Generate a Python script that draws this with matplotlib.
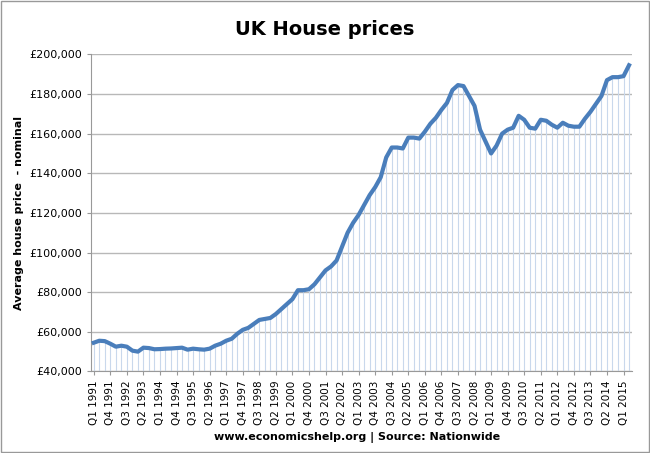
import matplotlib
matplotlib.use("Agg")
import matplotlib.pyplot as plt
from matplotlib.patches import Rectangle

years = list(range(1991, 2016))
prices_k = [54.5, 55.5, 55.3, 54,
            52.5, 53, 52.5, 50.5,
            50, 52, 51.8, 51.2,
            51.3, 51.5, 51.6, 51.8,
            52, 51, 51.5, 51.2,
            51, 51.5, 53, 54,
            55.5, 56.5, 59, 61,
            62, 64, 66, 66.5,
            67, 69, 71.5, 74,
            76.5, 81, 81, 81.5,
            84, 87.5, 91, 93,
            96, 103, 110, 115,
            119, 124, 129, 133,
            138, 148, 153, 153,
            152.5, 158, 158, 157.5,
            161, 165, 168, 172,
            175.5, 182, 184.5, 184,
            179, 174, 162, 156,
            150, 154, 160, 162,
            163, 169, 167, 163,
            162.5, 167, 166.5, 164.5,
            163, 165.5, 164, 163.5,
            163.5, 167.5, 171, 175,
            179, 187, 188.5, 188.5,
            189, 194.5]
prices = [p * 1000 for p in prices_k]
labels = [f"Q{q} {y}" for y in years for q in range(1, 5)][:len(prices)]
yticks = list(range(40000, 200001, 20000))

plt.rcParams["font.family"] = "DejaVu Sans"
fig = plt.figure(figsize=(6.5, 4.53), dpi=100)
ax = fig.add_axes([0.14, 0.18, 0.832, 0.70])
x = list(range(len(prices)))
ax.vlines(x, 40000, prices, color="#c9d8ec", lw=0.8, zorder=1)
ax.plot(x, prices, color="#4a7ebb", lw=3, zorder=3, solid_joinstyle="round")
ax.set_ylim(40000, 200000)
ax.set_xlim(-0.5, len(prices) - 0.5)
ax.set_yticks(yticks)
ax.set_yticklabels([f"£{v:,}" for v in yticks], fontsize=8)
ax.yaxis.grid(True, color="#b8b8b8", lw=1)
ax.set_axisbelow(True)
ax.set_xticks(x[::3])
ax.set_xticklabels(labels[::3], rotation=90, fontsize=7.5)
for s in ["top", "right"]:
    ax.spines[s].set_visible(False)
ax.spines["left"].set_color("#999999")
ax.spines["bottom"].set_color("#999999")
ax.tick_params(axis="y", length=3, color="#999999")
ax.tick_params(axis="x", length=3, color="#999999")
ax.set_ylabel("Average house price  - nominal", fontsize=8, fontweight="bold")
fig.text(0.5, 0.935, "UK House prices", ha="center", va="center", fontsize=14, fontweight="bold")
fig.text(0.55, 0.035, "www.economicshelp.org | Source: Nationwide", ha="center", va="center",
         fontsize=8, fontweight="bold")
fig.patches.append(Rectangle((0.002, 0.002), 0.996, 0.996, transform=fig.transFigure,
                             fill=False, edgecolor="#999999", lw=1))
fig.savefig("out.png", dpi=100)
